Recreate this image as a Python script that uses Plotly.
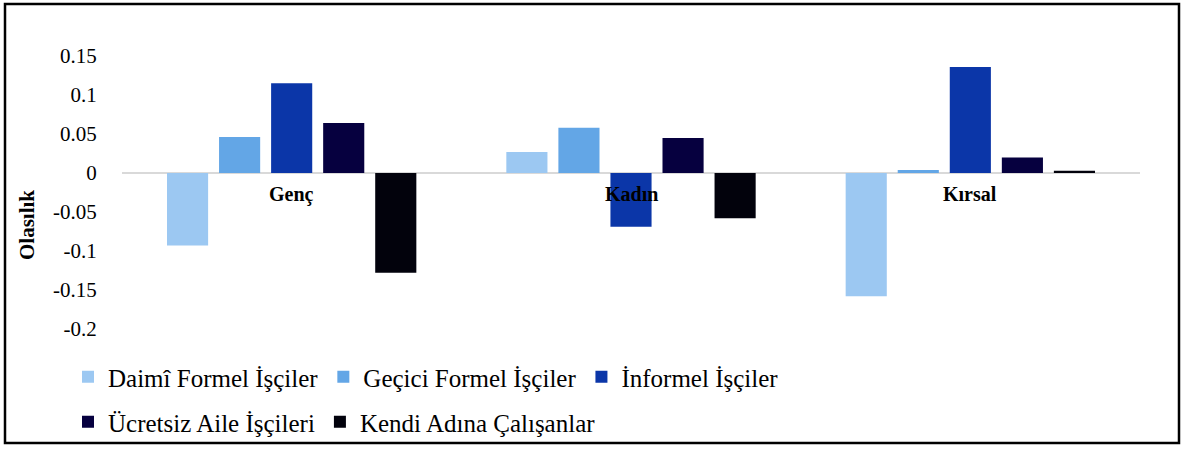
import plotly.graph_objects as go

# Categories and worker-type series
categories = ["Genç", "Kadın", "Kırsal"]
series_names = [
    "Daimî Formel İşçiler",
    "Geçici Formel İşçiler",
    "İnformel İşçiler",
    "Ücretsiz Aile İşçileri",
    "Kendi Adına Çalışanlar",
]
daimi_formel = [-0.093, 0.027, -0.158]
gecici_formel = [0.046, 0.058, 0.004]
informel = [0.115, -0.069, 0.136]
ucretsiz_aile = [0.064, 0.045, 0.020]
kendi_adina = [-0.128, -0.058, 0.003]

tick_vals = [-0.2, -0.15, -0.1, -0.05, 0, 0.05, 0.1, 0.15]
tick_text = ["-0.2", "-0.15", "-0.1", "-0.05", "0", "0.05", "0.1", "0.15"]

colors = ["#9cc8f2", "#63a6e6", "#0b36a8", "#06003f", "#02020c"]
values = [daimi_formel, gecici_formel, informel, ucretsiz_aile, kendi_adina]
legend_ids = ["legend", "legend", "legend", "legend2", "legend2"]

SERIF = "Times New Roman, Liberation Serif, DejaVu Serif, serif"

fig = go.Figure()
for name, vals, col, lg in zip(series_names, values, colors, legend_ids):
    fig.add_trace(go.Bar(
        x=categories, y=vals, name=name,
        marker=dict(color=col, line=dict(width=0)),
        legend=lg,
    ))

# Category labels sit just below the zero line
for cat in categories:
    fig.add_annotation(
        x=cat, y=0, xref="x", yref="y", text=f"<b>{cat}</b>",
        showarrow=False, yanchor="top", yshift=-8,
        font=dict(family=SERIF, size=20, color="#000000"),
    )

L, R, T, B = 122, 47, 40, 109
PW, PH = 1187 - L - R, 449 - T - B

def px_x(p):
    return (p - L) / PW

def px_y(p):
    return (449 - B - p) / PH

fig.add_annotation(
    x=px_x(27), y=px_y(225), xref="paper", yref="paper",
    text="<b>Olasılık</b>", textangle=-90, showarrow=False,
    xanchor="center", yanchor="middle",
    font=dict(family=SERIF, size=21, color="#000000"),
)

# Outer frame
fig.add_shape(
    type="rect", xref="paper", yref="paper",
    x0=px_x(5), x1=px_x(1179), y0=px_y(443), y1=px_y(4),
    line=dict(color="#000000", width=2.5), fillcolor="rgba(0,0,0,0)",
)

legend_style = dict(
    orientation="h", xanchor="left", yanchor="middle",
    font=dict(family=SERIF, size=25, color="#000000"),
    bgcolor="rgba(0,0,0,0)", traceorder="normal", tracegroupgap=0,
)

fig.update_layout(
    width=1187, height=449,
    margin=dict(l=L, r=R, t=T, b=B, autoexpand=False),
    paper_bgcolor="white", plot_bgcolor="white",
    font=dict(family=SERIF, color="#000000"),
    barmode="group", bargap=0.233, bargroupgap=0.21,
    showlegend=True,
    legend=dict(x=px_x(68), y=px_y(377), **legend_style),
    legend2=dict(x=px_x(68), y=px_y(422), **legend_style),
    xaxis=dict(
        showticklabels=False, showgrid=False, showline=False, zeroline=False,
        ticks="",
    ),
    yaxis=dict(
        range=[-0.2141, 0.1705], tickvals=tick_vals, ticktext=tick_text,
        showgrid=False, showline=False,
        zeroline=True, zerolinecolor="#d9d9d9", zerolinewidth=2,
        ticks="outside", ticklen=20, tickcolor="rgba(0,0,0,0)",
        tickfont=dict(family=SERIF, size=21, color="#000000"),
    ),
)

fig.write_html("out.html")
